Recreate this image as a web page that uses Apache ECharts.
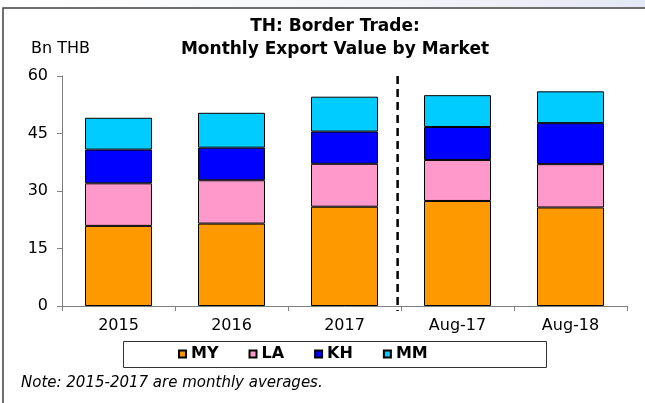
<!DOCTYPE html>
<html>
<head>
<meta charset="utf-8">
<script src="https://cdn.jsdelivr.net/npm/echarts@6/dist/echarts.min.js"></script>
<style>
  html, body { margin: 0; padding: 0; background: #fff; }
  #main { width: 645px; height: 403px; }
</style>
</head>
<body>
<div id="main"></div>
<script>
// data (Bn THB)
var categories = ['2015', '2016', '2017', 'Aug-17', 'Aug-18'];
var myVals = [20.9, 21.5, 25.9, 27.4, 25.7];
var laVals = [11.1, 11.3, 11.2, 10.7, 11.3];
var khVals = [8.8, 8.5, 8.4, 8.6, 10.7];
var mmVals = [8.3, 9.1, 9.1, 8.3, 8.3];
var yTicks = [0, 15, 30, 45, 60];
// dashed divider between 2017 and Aug-17 (category position)
var dividerAt = 2.97;
var dividerSpan = [-1.3, 60];

var font = 'DejaVu Sans';
var colors = ['#FF9900', '#FF99CC', '#0000FF', '#00CCFF'];

var myChart = echarts.init(document.getElementById('main'));

function barSeries(name, vals) {
  return {
    name: name,
    type: 'bar',
    stack: 'total',
    barWidth: 67,
    data: vals,
    itemStyle: { borderColor: '#000', borderWidth: 1 }
  };
}

myChart.setOption({
  animation: false,
  color: colors,
  title: {
    text: 'TH: Border Trade:\nMonthly Export Value by Market',
    left: 335,
    top: 15,
    padding: 0,
    textAlign: 'center',
    textStyle: { fontFamily: font, fontWeight: 'bold', fontSize: 17, lineHeight: 23, color: '#000' }
  },
  legend: {
    left: 178,
    top: 346,
    padding: 0,
    itemWidth: 7,
    itemHeight: 7,
    itemGap: 30,
    icon: 'rect',
    data: ['MY', 'LA', 'KH', 'MM'],
    textStyle: { fontFamily: font, fontWeight: 'bold', fontSize: 16, color: '#000', width: 50 }
  },
  grid: { left: 62, right: 18, top: 76, bottom: 97 },
  xAxis: [{
    type: 'category',
    data: categories,
    axisLine: { lineStyle: { color: '#808080', width: 1 } },
    axisTick: { show: true, length: 5, lineStyle: { color: '#808080' } },
    axisLabel: { fontFamily: font, fontSize: 16, color: '#000', margin: 12 }
  }, {
    type: 'value',
    min: 0,
    max: categories.length,
    show: false
  }],
  yAxis: {
    type: 'value',
    min: yTicks[0],
    max: yTicks[yTicks.length - 1],
    interval: 15,
    splitLine: { show: false },
    axisLine: { show: true, lineStyle: { color: '#808080', width: 1 } },
    axisTick: { show: true, length: 5, lineStyle: { color: '#808080' } },
    axisLabel: { fontFamily: font, fontSize: 16, color: '#000', margin: 14 }
  },
  series: [
    barSeries('MY', myVals),
    barSeries('LA', laVals),
    barSeries('KH', khVals),
    barSeries('MM', mmVals),
    {
      type: 'line',
      xAxisIndex: 1,
      clip: false,
      symbol: 'none',
      silent: true,
      data: [[dividerAt, dividerSpan[1]], [dividerAt, dividerSpan[0]]],
      lineStyle: { color: '#000', width: 2.5, type: [8, 5] },
      z: 5
    }
  ],
  graphic: [
    // faint band above the frame
    {
      type: 'rect',
      shape: { x: 0, y: 0, width: 645, height: 7 },
      style: {
        fill: new echarts.graphic.LinearGradient(0, 0, 1, 0, [
          { offset: 0, color: '#ffffff' },
          { offset: 0.6, color: '#f4f5f8' },
          { offset: 1, color: '#e4e8f6' }
        ])
      },
      silent: true
    },
    // outer frame (top + left)
    {
      type: 'polyline',
      shape: { points: [[3, 403], [3, 8], [645, 8]] },
      style: { stroke: '#404040', lineWidth: 1.5, fill: null },
      silent: true
    },
    // legend box
    {
      type: 'rect',
      shape: { x: 123.5, y: 341.5, width: 423, height: 26 },
      style: { stroke: '#333', lineWidth: 1, fill: 'none' },
      silent: true
    },
    {
      type: 'text',
      style: { x: 31, y: 49, text: 'Bn THB', fontFamily: font, fontSize: 16, fill: '#000', verticalAlign: 'middle' }
    },
    {
      type: 'text',
      style: {
        x: 21, y: 383, text: 'Note: 2015-2017 are monthly averages.',
        fontFamily: font, fontStyle: 'italic', fontSize: 15, fill: '#000', verticalAlign: 'middle'
      }
    }
  ]
});
</script>
</body>
</html>
